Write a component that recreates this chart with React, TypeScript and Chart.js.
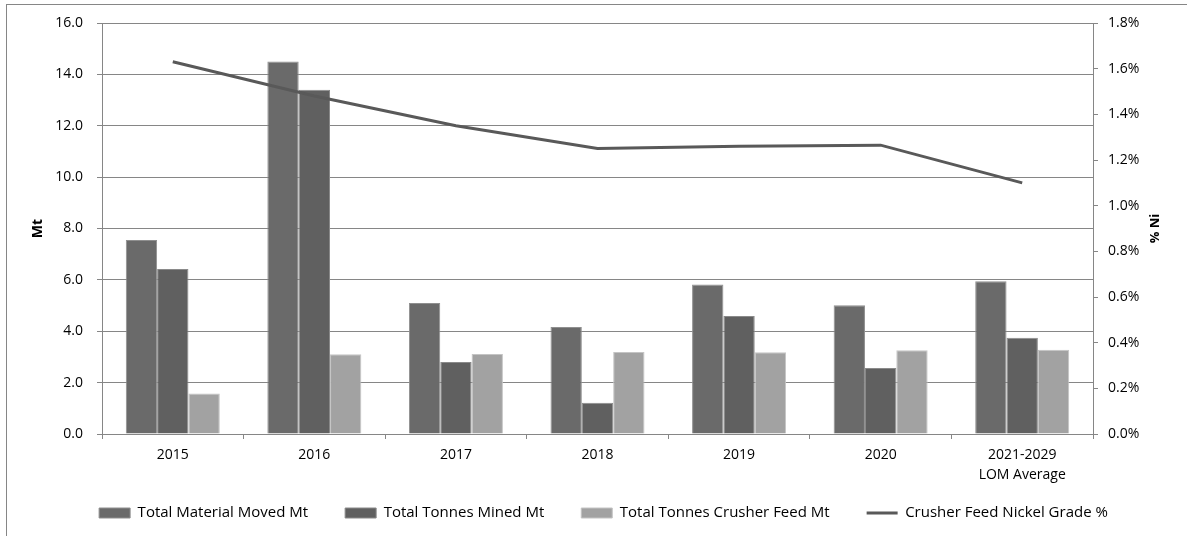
import React, { useEffect, useRef } from 'react';
import { Chart, registerables } from 'chart.js';

Chart.register(...registerables);

const categories: string[][] = [['2015'], ['2016'], ['2017'], ['2018'], ['2019'], ['2020'], ['2021-2029', 'LOM Average']];
const totalMaterialMoved = [7.55, 14.5, 5.1, 4.17, 5.82, 5.01, 5.95];
const totalTonnesMined = [6.42, 13.4, 2.8, 1.22, 4.59, 2.57, 3.75];
const totalCrusherFeed = [1.58, 3.1, 3.11, 3.19, 3.18, 3.26, 3.28];
const nickelGrade = [1.63, 1.48, 1.35, 1.25, 1.26, 1.265, 1.1];

const seriesNames = [
  'Total Material Moved Mt',
  'Total Tonnes Mined Mt',
  'Total Tonnes Crusher Feed Mt',
  'Crusher Feed Nickel Grade %',
];

const FONT = "'Open Sans', sans-serif";
const AXIS_COLOR = '#868686';
const W = 1187;
const H = 560;
const PLOT_LEFT = 102;
const PLOT_RIGHT = 1093;
const PLOT_TOP = 23;
const PLOT_BOTTOM = 434;
const LEGEND_CENTER_Y = 513;

export default function App() {
  const ref = useRef<HTMLCanvasElement>(null);

  useEffect(() => {
    if (!ref.current) return;
    const rightTitle = {
      id: 'rightTitle',
      afterDraw(chart: any) {
        const ctx = chart.ctx;
        ctx.save();
        ctx.translate(1155, (chart.chartArea.top + chart.chartArea.bottom) / 2);
        ctx.rotate(-Math.PI / 2);
        ctx.textAlign = 'center';
        ctx.textBaseline = 'middle';
        ctx.fillStyle = '#000';
        ctx.font = `bold 13px ${FONT}`;
        ctx.fillText('% Ni', 0, 0);
        ctx.restore();
      },
    };
    const legendPlacer = {
      id: 'legendPlacer',
      afterLayout(chart: any) {
        const lg = chart.legend;
        if (!lg) return;
        const pad = lg.options.labels.padding;
        const itemH = lg.options.labels.font.size;
        const h = lg.height;
        lg.top = LEGEND_CENTER_Y - pad - itemH / 2;
        lg.bottom = lg.top + h;
        lg.left += 10;
        lg.right += 10;
      },
    };

    const chart = new Chart(ref.current, {
      type: 'bar',
      data: {
        labels: categories,
        datasets: [
          {
            label: seriesNames[0],
            data: totalMaterialMoved,
            backgroundColor: '#6a6a6a',
            borderColor: '#8f8f8f',
            borderWidth: 1,
            barPercentage: 1,
            categoryPercentage: 0.664,
            yAxisID: 'y',
            order: 1,
            pointStyle: 'rect',
          },
          {
            label: seriesNames[1],
            data: totalTonnesMined,
            backgroundColor: '#606060',
            borderColor: '#8a8a8a',
            borderWidth: 1,
            barPercentage: 1,
            categoryPercentage: 0.664,
            yAxisID: 'y',
            order: 1,
            pointStyle: 'rect',
          },
          {
            label: seriesNames[2],
            data: totalCrusherFeed,
            backgroundColor: '#a2a2a2',
            borderColor: '#c4c4c4',
            borderWidth: 1,
            barPercentage: 1,
            categoryPercentage: 0.664,
            yAxisID: 'y',
            order: 1,
            pointStyle: 'rect',
          },
          {
            type: 'line',
            label: seriesNames[3],
            data: nickelGrade,
            borderColor: '#595959',
            backgroundColor: '#595959',
            borderWidth: 3,
            pointRadius: 0,
            pointHoverRadius: 0,
            tension: 0,
            yAxisID: 'y1',
            order: 0,
            pointStyle: 'line',
          } as any,
        ],
      },
      options: {
        animation: false,
        responsive: false,
        maintainAspectRatio: false,
        devicePixelRatio: 1,
        layout: { padding: { top: PLOT_TOP, left: 0, right: 0, bottom: 0 } },
        plugins: {
          tooltip: { enabled: false },
          legend: {
            position: 'bottom',
            labels: {
              usePointStyle: true,
              pointStyleWidth: 31,
              boxHeight: 10,
              padding: 37,
              color: '#000',
              font: { family: FONT, size: 15 },
              sort: (a: any, b: any) => a.datasetIndex - b.datasetIndex,
            },
          },
        },
        scales: {
          x: {
            offset: true,
            grid: { drawOnChartArea: false, tickLength: 5, color: AXIS_COLOR, offset: true },
            border: { color: AXIS_COLOR },
            ticks: {
              color: '#000',
              padding: 6,
              maxRotation: 0,
              autoSkip: false,
              font: { family: FONT, size: 14, lineHeight: 1.45 },
            },
            afterFit: (s: any) => {
              s.height = s.chart.height - s.chart.legend.height - PLOT_BOTTOM;
            },
          },
          y: {
            position: 'left',
            min: 0,
            max: 16,
            ticks: {
              stepSize: 2,
              padding: 14,
              color: '#000',
              font: { family: FONT, size: 14 },
              callback: (v: any) => Number(v).toFixed(1),
            },
            grid: { color: AXIS_COLOR, tickLength: 5 },
            border: { color: AXIS_COLOR },
            title: {
              display: true,
              text: 'Mt',
              color: '#000',
              font: { family: FONT, size: 14, weight: 'bold' },
              padding: { top: 30, bottom: 0 },
            },
            afterFit: (s: any) => {
              s.width = PLOT_LEFT;
            },
          },
          y1: {
            position: 'right',
            min: 0,
            max: 1.8,
            ticks: {
              stepSize: 0.2,
              padding: 10,
              color: '#000',
              font: { family: FONT, size: 14 },
              callback: (v: any) => Number(v).toFixed(1) + '%',
            },
            grid: { drawOnChartArea: false, color: AXIS_COLOR, tickLength: 5 },
            border: { color: AXIS_COLOR },
            afterFit: (s: any) => {
              s.width = W - PLOT_RIGHT;
            },
          },
        },
      },
      plugins: [rightTitle, legendPlacer],
    } as any);

    return () => chart.destroy();
  }, []);

  return (
    <div
      style={{
        position: 'fixed',
        left: 0,
        top: 0,
        width: W,
        height: 536,
        overflow: 'hidden',
        background: '#fff',
      }}
    >
      <div
        style={{
          position: 'absolute',
          left: 6,
          top: 4,
          width: 1400,
          height: 800,
          border: `1px solid ${AXIS_COLOR}`,
        }}
      />
      <canvas
        ref={ref}
        width={W}
        height={H}
        style={{ position: 'absolute', left: 0, top: 0, width: W, height: H }}
      />
    </div>
  );
}
